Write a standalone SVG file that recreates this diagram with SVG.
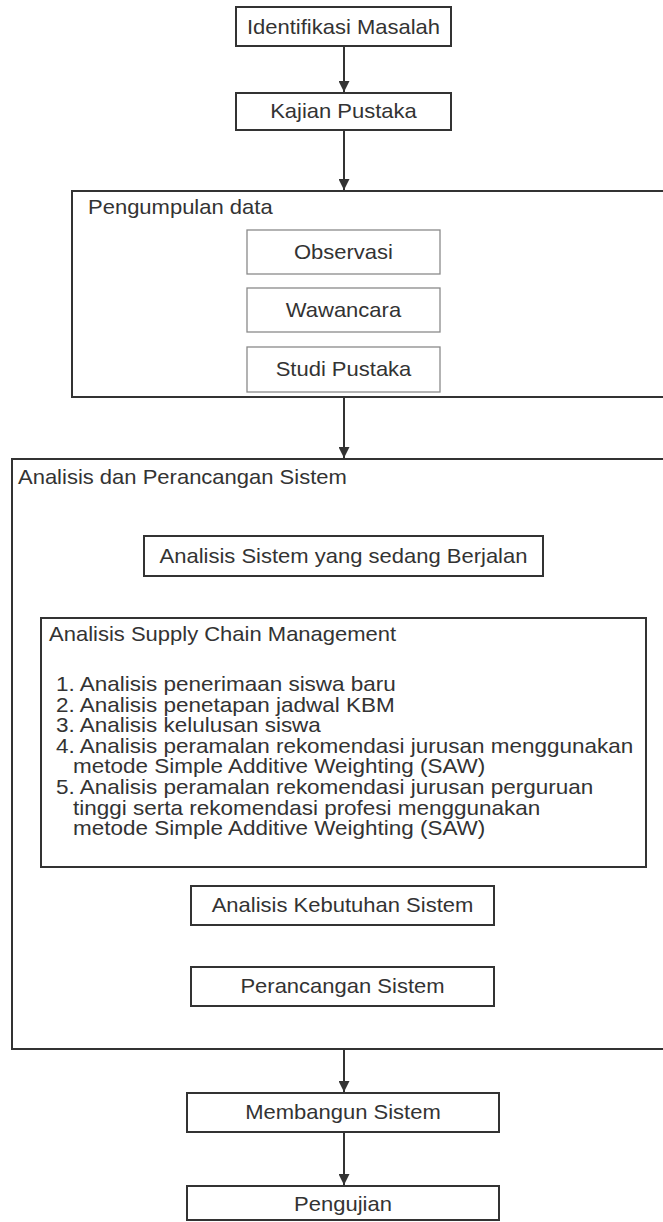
<svg xmlns="http://www.w3.org/2000/svg" width="663" height="1222" viewBox="0 0 663 1222">
<style>
  .box { fill: #ffffff; stroke: #333333; stroke-width: 2; }
  .sub { fill: #ffffff; stroke: #8a8a8a; stroke-width: 1.3; }
  .t { font-family: "Liberation Sans", Arial, sans-serif; font-size: 20px; fill: #333333; }
  .c { text-anchor: middle; }
  .edge { stroke: #333333; stroke-width: 2; fill: none; }
</style>
<defs>
  <marker id="arr" markerWidth="11" markerHeight="11" refX="10" refY="5" orient="auto" markerUnits="userSpaceOnUse" viewBox="0 0 10 10">
    <path d="M0,0 L10,5 L0,10 Z" fill="#333333"/>
  </marker>
</defs>
<rect width="663" height="1222" fill="#ffffff"/>

<g id="n-identifikasi">
  <rect class="box" x="236" y="7" width="215" height="39"/>
  <text class="t c" transform="scale(1.1 1)" x="312.27" y="34">Identifikasi Masalah</text>
</g>
<g id="n-kajian">
  <rect class="box" x="236" y="93" width="215" height="37"/>
  <text class="t c" transform="scale(1.1 1)" x="312.27" y="118">Kajian Pustaka</text>
</g>
<g id="n-pengumpulan">
  <rect class="box" x="72" y="191" width="620" height="206"/>
  <text class="t" transform="scale(1.1 1)" x="80" y="214">Pengumpulan data</text>
</g>
<g id="n-observasi">
  <rect class="sub" x="247" y="230" width="193" height="44"/>
  <text class="t c" transform="scale(1.1 1)" x="312.27" y="259">Observasi</text>
</g>
<g id="n-wawancara">
  <rect class="sub" x="247" y="288" width="193" height="44"/>
  <text class="t c" transform="scale(1.1 1)" x="312.27" y="317">Wawancara</text>
</g>
<g id="n-studi">
  <rect class="sub" x="247" y="347" width="193" height="45"/>
  <text class="t c" transform="scale(1.1 1)" x="312.27" y="376">Studi Pustaka</text>
</g>
<g id="n-analisis-perancangan">
  <rect class="box" x="12" y="459" width="680" height="590"/>
  <text class="t" transform="scale(1.1 1)" x="16.36" y="484">Analisis dan Perancangan Sistem</text>
</g>
<g id="n-berjalan">
  <rect class="box" x="144" y="536" width="399" height="40"/>
  <text class="t c" transform="scale(1.1 1)" x="312.27" y="563">Analisis Sistem yang sedang Berjalan</text>
</g>
<g id="n-scm">
  <rect class="box" x="41" y="618" width="605" height="249"/>
  <text class="t" transform="scale(1.1 1)" x="44.55" y="641">Analisis Supply Chain Management</text>
  <text class="t" transform="scale(1.125 1)" x="49.78" y="691">1. Analisis penerimaan siswa baru</text>
  <text class="t" transform="scale(1.125 1)" x="49.78" y="711.6">2. Analisis penetapan jadwal KBM</text>
  <text class="t" transform="scale(1.125 1)" x="49.78" y="732.2">3. Analisis kelulusan siswa</text>
  <text class="t" transform="scale(1.125 1)" x="49.78" y="752.8">4. Analisis peramalan rekomendasi jurusan menggunakan</text>
  <text class="t" transform="scale(1.125 1)" x="64.89" y="773.4">metode Simple Additive Weighting (SAW)</text>
  <text class="t" transform="scale(1.125 1)" x="49.78" y="794">5. Analisis peramalan rekomendasi jurusan perguruan</text>
  <text class="t" transform="scale(1.125 1)" x="64.89" y="814.6">tinggi serta rekomendasi profesi menggunakan</text>
  <text class="t" transform="scale(1.125 1)" x="64.89" y="835.2">metode Simple Additive Weighting (SAW)</text>
</g>
<g id="n-kebutuhan">
  <rect class="box" x="191" y="886" width="303" height="39"/>
  <text class="t c" transform="scale(1.1 1)" x="311.36" y="912">Analisis Kebutuhan Sistem</text>
</g>
<g id="n-perancangan">
  <rect class="box" x="191" y="967" width="303" height="39"/>
  <text class="t c" transform="scale(1.1 1)" x="311.36" y="993">Perancangan Sistem</text>
</g>
<g id="n-membangun">
  <rect class="box" x="187" y="1093" width="312" height="39"/>
  <text class="t c" transform="scale(1.1 1)" x="311.82" y="1119">Membangun Sistem</text>
</g>
<g id="n-pengujian">
  <rect class="box" x="187" y="1186" width="312" height="34"/>
  <text class="t c" transform="scale(1.1 1)" x="311.82" y="1211">Pengujian</text>
</g>

<g id="connectors">
  <line class="edge" x1="344" y1="47" x2="344" y2="92" marker-end="url(#arr)"/>
  <line class="edge" x1="344" y1="131" x2="344" y2="190" marker-end="url(#arr)"/>
  <line class="edge" x1="344" y1="398" x2="344" y2="458" marker-end="url(#arr)"/>
  <line class="edge" x1="344" y1="1050" x2="344" y2="1092" marker-end="url(#arr)"/>
  <line class="edge" x1="344" y1="1133" x2="344" y2="1185" marker-end="url(#arr)"/>
</g>
</svg>
